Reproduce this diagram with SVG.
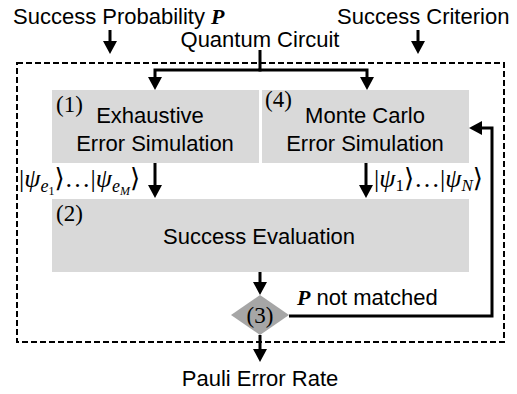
<svg xmlns="http://www.w3.org/2000/svg" width="517" height="394" viewBox="0 0 517 394">
<defs>
<marker id="ah" viewBox="0 0 13 14" refX="5" refY="7" markerWidth="13" markerHeight="14" markerUnits="userSpaceOnUse" orient="auto">
<path d="M0,0 L13,7 L0,14 z" fill="#000"/>
</marker>
<style>
.t{font-family:"Liberation Sans","DejaVu Sans",sans-serif;font-size:22px;fill:#000}
.c{text-anchor:middle}
.n{font-family:"Liberation Serif","DejaVu Serif",serif;font-size:23px;fill:#000}
.m{font-family:"Liberation Serif","DejaVu Serif",serif;font-size:26px;fill:#000}
.bp{font-family:"Liberation Serif","DejaVu Serif",serif;font-weight:bold;font-style:italic}
.i{font-style:italic}
.box{fill:#d9d9d9}
.ln{fill:none;stroke:#000;stroke-width:3;marker-end:url(#ah)}
</style>
</defs>
<rect x="17" y="63" width="487" height="279" fill="none" stroke="#000" stroke-width="2" stroke-dasharray="6 3"/>
<g id="input-p"><text class="t" x="13" y="24">Success Probability <tspan class="bp">P</tspan></text></g>
<g id="input-criterion"><text class="t" x="337" y="24">Success Criterion</text></g>
<g id="input-circuit"><text class="t c" x="260" y="47">Quantum Circuit</text></g>
<g id="node1">
<rect class="box" x="52" y="90" width="207" height="73"/>
<text class="n" x="56" y="112">(1)</text>
<text class="t c" x="150" y="123">Exhaustive</text>
<text class="t c" x="155" y="151">Error Simulation</text>
</g>
<g id="node4">
<rect class="box" x="262" y="90" width="207" height="73"/>
<text class="n" x="265" y="107">(4)</text>
<text class="t c" x="365" y="123">Monte Carlo</text>
<text class="t c" x="365" y="151">Error Simulation</text>
</g>
<g id="node2">
<rect class="box" x="52" y="199" width="417" height="73"/>
<text class="n" x="56" y="221">(2)</text>
<text class="t c" x="259" y="244">Success Evaluation</text>
</g>
<g id="node3">
<polygon points="231,315 260,295 289,315 260,335" fill="#a6a6a6"/>
<text class="n c" x="260" y="323">(3)</text>
</g>
<g id="output"><text class="t c" x="260" y="386">Pauli Error Rate</text></g>
<g id="connectors">
<path class="ln" d="M110,30 V46"/>
<path class="ln" d="M418,30 V46"/>
<path class="ln" d="M260,50 V70 H155 V82"/>
<path class="ln" d="M258.5,70 H367 V82"/>
<path class="ln" d="M155,163 V190"/>
<path class="ln" d="M366,163 V190"/>
<path class="ln" d="M260,272 V287"/>
<path class="ln" d="M289,316 H492 V128 H477"/>
<path class="ln" d="M260,335 V354"/>
</g>
<g id="labels">
<text class="m" x="19" y="187">|<tspan class="i">ψ</tspan><tspan class="i" font-size="18" dy="5">e</tspan><tspan font-size="12" dy="3">1</tspan><tspan dy="-8">⟩…|</tspan><tspan class="i">ψ</tspan><tspan class="i" font-size="18" dy="5">e</tspan><tspan class="i" font-size="12" dy="3">M</tspan><tspan dy="-8">⟩</tspan></text>
<text class="m" x="374" y="187">|<tspan class="i">ψ</tspan><tspan font-size="17" dy="4">1</tspan><tspan dy="-4">⟩…|</tspan><tspan class="i">ψ</tspan><tspan class="i" font-size="17" dy="4">N</tspan><tspan dy="-4">⟩</tspan></text>
<text class="t" x="297" y="305"><tspan class="bp">P</tspan> not matched</text>
</g>
</svg>
